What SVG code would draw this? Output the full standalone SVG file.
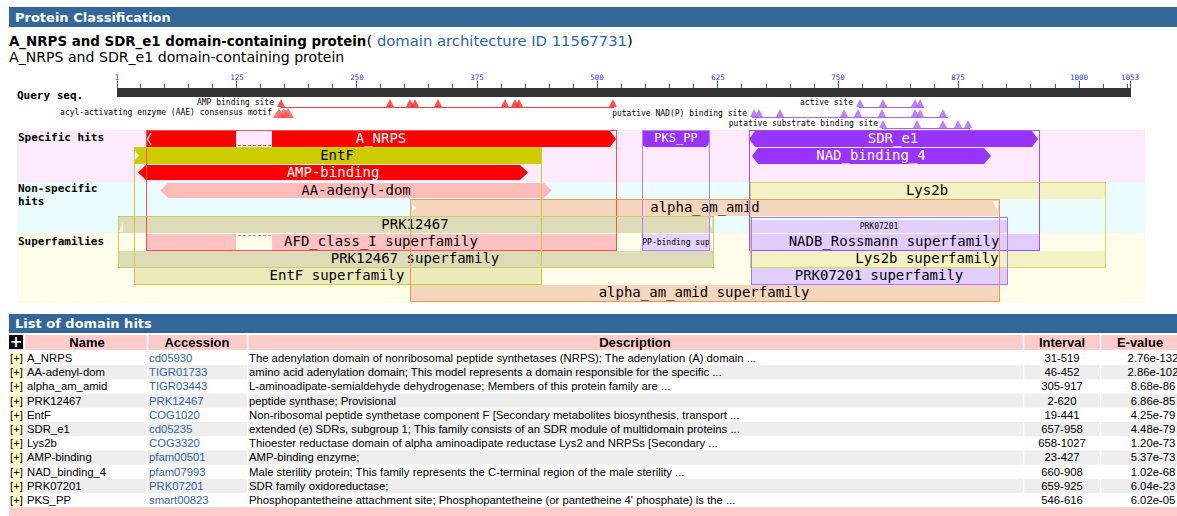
<svg xmlns="http://www.w3.org/2000/svg" width="1177" height="516" viewBox="0 0 1177 516">
<style>
.hdr{fill:#336699}
.hdrt{font-family:"DejaVu Sans",Verdana,sans-serif;font-weight:bold;font-size:13px;fill:#fff}
.mono{font-family:"DejaVu Sans Mono","Liberation Mono",monospace}
.lbl{font-family:"DejaVu Sans Mono","Liberation Mono",monospace;font-weight:bold;font-size:11px;fill:#000}
.rl{font-family:"DejaVu Sans Mono","Liberation Mono",monospace;font-size:7.5px;fill:#3333ee;text-anchor:middle}
.site{font-family:"DejaVu Sans Mono","Liberation Mono",monospace;font-size:8px;fill:#000;text-anchor:end}
.bt{font-family:"DejaVu Sans Mono","Liberation Mono",monospace;font-size:14px;text-anchor:middle;fill:#000}
.w{fill:#fff}
.sm{font-family:"DejaVu Sans Mono","Liberation Mono",monospace;font-size:8px;text-anchor:middle;fill:#000}
.ol{fill:none;stroke-width:1}
.th{font-family:"Liberation Sans",Arial,sans-serif;font-weight:bold;font-size:13px;text-anchor:middle;fill:#000}
.td{font-family:"Liberation Sans",Arial,sans-serif;font-size:11.3px;fill:#000}
.acc{fill:#3366a0}
.c{text-anchor:middle}
</style>
<defs>
<polygon id="tr" points="-4,0 0,-8 4,0" fill="#ff3030" fill-opacity="0.85"/>
<polygon id="tp" points="-4,0 0,-8 4,0" fill="#a860ff" fill-opacity="0.8"/>
</defs>
<rect width="1177" height="516" fill="#fff"/>

<!-- header -->
<g id="header">
<rect class="hdr" x="9" y="7" width="1168" height="20"/>
<text class="hdrt" x="15" y="22">Protein Classification</text>
<text x="9" y="46" font-family="DejaVu Sans,Verdana,sans-serif" font-size="14.8px" fill="#000"><tspan font-weight="bold" font-size="13.4px">A_NRPS and SDR_e1 domain-containing protein</tspan>( <tspan fill="#2a66aa">domain architecture ID 11567731</tspan>)</text>
<text x="9" y="62" font-family="DejaVu Sans,Verdana,sans-serif" font-size="14.1px" fill="#000">A_NRPS and SDR_e1 domain-containing protein</text>
</g>

<!-- ruler -->
<g id="query">
<text class="lbl" x="17" y="99">Query seq.</text>
<rect x="117" y="88" width="1014" height="9" fill="#333"/>
<path stroke="#3355ee" stroke-width="1" fill="none" d="M117.5,81V88 M140.5,84V88 M164.5,84V88 M188.5,84V88 M212.5,84V88 M236.5,81V88 M260.5,84V88 M284.5,84V88 M308.5,84V88 M332.5,84V88 M356.5,81V88 M380.5,84V88 M404.5,84V88 M428.5,84V88 M452.5,84V88 M477.5,81V88 M501.5,84V88 M525.5,84V88 M549.5,84V88 M573.5,84V88 M597.5,81V88 M621.5,84V88 M645.5,84V88 M669.5,84V88 M693.5,84V88 M717.5,81V88 M741.5,84V88 M766.5,84V88 M790.5,84V88 M814.5,84V88 M838.5,81V88 M862.5,84V88 M886.5,84V88 M910.5,84V88 M934.5,84V88 M958.5,81V88 M982.5,84V88 M1006.5,84V88 M1030.5,84V88 M1055.5,84V88 M1079.5,81V88 M1103.5,84V88 M1127.5,84V88 M1130.5,81V88"/>
<text class="rl" x="117" y="80">1</text>
<text class="rl" x="237" y="80">125</text>
<text class="rl" x="357" y="80">250</text>
<text class="rl" x="477" y="80">375</text>
<text class="rl" x="597" y="80">500</text>
<text class="rl" x="718" y="80">625</text>
<text class="rl" x="838" y="80">750</text>
<text class="rl" x="958" y="80">875</text>
<text class="rl" x="1079" y="80">1000</text>
<text class="rl" x="1130" y="80">1053</text>
</g>

<!-- sites -->
<g id="amp-site">
<text class="site" x="274" y="105">AMP binding site</text>
<line x1="281" y1="107.5" x2="614" y2="107.5" stroke="#ff4040" stroke-width="1.2"/>
<use href="#tr" x="281" y="107"/><use href="#tr" x="390" y="107"/><use href="#tr" x="410" y="107"/><use href="#tr" x="415" y="107"/><use href="#tr" x="438" y="107"/><use href="#tr" x="505" y="107"/><use href="#tr" x="515" y="107"/><use href="#tr" x="519" y="107"/><use href="#tr" x="613" y="107"/>
</g>
<g id="aae-motif">
<text class="site" x="272" y="115">acyl-activating enzyme (AAE) consensus motif</text>
<polygon points="273,118 279,108 285,118" fill="#ff5050" fill-opacity="0.8"/>
<polygon points="278,118 284,108 290,118" fill="#ff5050" fill-opacity="0.8"/>
<polygon points="282,118 288,108 294,118" fill="#ff5050" fill-opacity="0.8"/>
</g>
<g id="active-site">
<text class="site" x="853" y="105">active site</text>
<line x1="859" y1="107.5" x2="924" y2="107.5" stroke="#a860ff" stroke-width="1.2"/>
<use href="#tp" x="860" y="107"/><use href="#tp" x="883" y="107"/><use href="#tp" x="915" y="107"/><use href="#tp" x="920" y="107"/>
</g>
<g id="nadp-site">
<text class="site" x="747" y="116">putative NAD(P) binding site</text>
<line x1="752" y1="117.5" x2="948" y2="117.5" stroke="#a860ff" stroke-width="1.2"/>
<use href="#tp" x="754" y="117"/><use href="#tp" x="759" y="117"/><use href="#tp" x="780" y="117"/><use href="#tp" x="844" y="117"/><use href="#tp" x="858" y="117"/><use href="#tp" x="882" y="117"/><use href="#tp" x="915" y="117"/><use href="#tp" x="920" y="117"/><use href="#tp" x="943" y="117"/>
</g>
<g id="substrate-site">
<text class="site" x="878" y="126">putative substrate binding site</text>
<line x1="882" y1="128.5" x2="970" y2="128.5" stroke="#a860ff" stroke-width="1.2"/>
<use href="#tp" x="883" y="128"/><use href="#tp" x="917" y="128"/><use href="#tp" x="943" y="128"/><use href="#tp" x="958" y="128"/><use href="#tp" x="968" y="128"/>
</g>

<!-- bands -->
<g id="bands">
<rect x="17" y="130" width="1128" height="52" fill="#fdeafd"/>
<rect x="17" y="182" width="1128" height="51" fill="#eafcfd"/>
<rect x="17" y="233" width="1128" height="70" fill="#fdfdea"/>
<text class="lbl" x="18" y="141">Specific hits</text>
<text class="lbl" x="18" y="192">Non-specific</text>
<text class="lbl" x="18" y="205">hits</text>
<text class="lbl" x="18" y="245">Superfamilies</text>
</g>

<!-- superfamily bars -->
<g id="AFD_class_I">
<rect x="146" y="234" width="470" height="16" fill="#ffc2c2"/>
<rect x="236" y="234" width="36" height="16" fill="#fdfdea"/>
<line x1="238" y1="235.5" x2="271" y2="235.5" stroke="#ff8080" stroke-dasharray="3,2"/>
<text class="bt" x="381" y="246">AFD_class_I superfamily</text>
</g>
<g id="PP-binding">
<rect x="642" y="234" width="67" height="16" fill="#e4d2ff"/>
<text class="sm" x="676" y="245">PP-binding sup</text>
</g>
<g id="NADB_Rossmann">
<rect x="749" y="234" width="290" height="16" fill="#e2ccff"/>
<text class="bt" x="894" y="246">NADB_Rossmann superfamily</text>
</g>
<g id="PRK12467_sf">
<rect x="118" y="251" width="595" height="16" fill="#dedcb8"/>
<text class="bt" x="415" y="263">PRK12467 superfamily</text>
</g>
<g id="Lys2b_sf">
<rect x="750" y="251" width="355" height="16" fill="#f2f2c4"/>
<text class="bt" x="927" y="263">Lys2b superfamily</text>
</g>
<g id="EntF_sf">
<rect x="134" y="268" width="407" height="16" fill="#ebebbc"/>
<text class="bt" x="337" y="280">EntF superfamily</text>
</g>
<g id="PRK07201_sf">
<rect x="751" y="268" width="256" height="16" fill="#e2cfff"/>
<text class="bt" x="879" y="280">PRK07201 superfamily</text>
</g>
<g id="alpha_am_amid_sf">
<rect x="410" y="285" width="589" height="16" fill="#f6d6bd"/>
<text class="bt" x="704" y="297">alpha_am_amid superfamily</text>
</g>

<!-- hits -->
<g id="A_NRPS">
<polygon points="146,131 610,131 616,139 610,147 146,147" fill="#ff0000"/>
<rect x="236" y="131" width="36" height="16" fill="#fdeafd"/>
<line x1="238" y1="145.5" x2="271" y2="145.5" stroke="#ff4040" stroke-dasharray="3,2"/>
<polyline points="151,133 147.5,139 151,145" fill="none" stroke="#fff" stroke-width="1.2"/>
<polygon points="611,131 616,131 616,136" fill="#fff"/>
<text class="bt w" x="381" y="143">A_NRPS</text>
</g>
<g id="EntF">
<rect x="134" y="148" width="407" height="16" fill="#cccc00"/>
<polygon points="135,151 139,155.5 135,160" fill="#fff"/>
<text class="bt" x="337" y="160">EntF</text>
</g>
<g id="AMP-binding">
<polygon points="138,172.5 146,165 520,165 528,172.5 520,180 146,180" fill="#ff0000"/>
<text class="bt w" x="333" y="177">AMP-binding</text>
</g>
<g id="PKS_PP">
<path d="M642,131H709V142Q709,147 704,147H647Q642,147 642,142Z" fill="#9933ff"/>
<text class="mono w" x="676" y="142" font-size="12px" text-anchor="middle">PKS_PP</text>
</g>
<g id="SDR_e1">
<polygon points="749,139 755,131 1032,131 1038,139 1032,147 755,147" fill="#9933ff"/>
<polygon points="1033,131 1038,131 1038,136" fill="#fff"/>
<text class="bt w" x="893" y="143">SDR_e1</text>
</g>
<g id="NAD_binding_4">
<polygon points="752,156 758,148 984,148 991,156 984,164 758,164" fill="#9933ff"/>
<text class="bt w" x="871" y="160">NAD_binding_4</text>
</g>
<g id="AA-adenyl-dom">
<polygon points="160,190.5 168,183 544,183 552,190.5 544,198 168,198" fill="#ffbaba"/>
<text class="bt" x="356" y="195">AA-adenyl-dom</text>
</g>
<g id="Lys2b">
<path d="M750,183H1105V194Q1105,199 1100,199H750Z" fill="#f2f2c4"/>
<text class="bt" x="927" y="195">Lys2b</text>
</g>
<g id="alpha_am_amid">
<rect x="410" y="200" width="589" height="16" fill="#f6d6bd"/>
<polygon points="412,204 416,208 412,212" fill="#fff"/>
<polygon points="993,201 998,201 998,212" fill="#fff"/>
<text class="bt" x="705" y="212">alpha_am_amid</text>
</g>
<g id="PRK12467">
<rect x="118" y="217" width="595" height="16" fill="#dedcb8"/>
<polygon points="119,232 123,222 123,232" fill="#fff" fill-opacity="0.7"/>
<polygon points="708,220 712,217 712,229" fill="#fff"/>
<text class="bt" x="415" y="229">PRK12467</text>
</g>
<g id="PRK07201">
<rect x="751" y="220" width="256" height="13" fill="#e2cfff"/>
<text class="sm" x="879" y="229">PRK07201</text>
</g>

<!-- outlines linking hits with superfamilies -->
<g id="connectors" class="ol">
<rect x="146.5" y="130.5" width="470" height="120" stroke="#ff5050"/>
<rect x="134.5" y="147.5" width="407" height="137" stroke="#cccc33"/>
<rect x="642.5" y="130.5" width="67" height="120" stroke="#b380ff"/>
<rect x="749.5" y="130.5" width="290" height="120" stroke="#a050ff"/>
<rect x="750.5" y="182.5" width="355" height="85" stroke="#d8d860"/>
<rect x="410.5" y="199.5" width="589" height="102" stroke="#e89a5c"/>
<rect x="118.5" y="216.5" width="595" height="51" stroke="#cccc66"/>
<rect x="751.5" y="217.5" width="256" height="67" stroke="#a47aff"/>
</g>

<!-- table -->
<g id="domain-table">
<rect class="hdr" x="9" y="314" width="1168" height="19"/>
<text class="hdrt" x="15" y="328">List of domain hits</text>
<rect x="9" y="335" width="1168" height="15" fill="#ffcccc"/>
<rect x="9" y="335" width="14" height="14" fill="#000"/>
<text x="16" y="347" font-family="DejaVu Sans,sans-serif" font-weight="bold" font-size="15px" fill="#fff" text-anchor="middle">+</text>
<text class="th" x="87" y="347">Name</text>
<text class="th" x="197" y="347">Accession</text>
<text class="th" x="635" y="347">Description</text>
<text class="th" x="1062" y="347">Interval</text>
<text class="th" x="1140" y="347">E-value</text>
<rect x="9" y="365.2" width="1168" height="14.2" fill="#eeeeee"/>
<rect x="9" y="393.6" width="1168" height="14.2" fill="#eeeeee"/>
<rect x="9" y="422" width="1168" height="14.2" fill="#eeeeee"/>
<rect x="9" y="450.4" width="1168" height="14.2" fill="#eeeeee"/>
<rect x="9" y="478.8" width="1168" height="14.2" fill="#eeeeee"/>
<rect x="9" y="507.2" width="1168" height="9" fill="#ffcccc"/>
<path d="M24.5,335V507 M147.5,335V507 M247.5,335V507 M1023.5,335V507 M1100.5,335V507" stroke="#fff" stroke-width="1.5"/>
<g fill="#ffffc8">
<rect x="10" y="352" width="13" height="13"/><rect x="10" y="366.2" width="13" height="13"/><rect x="10" y="380.4" width="13" height="13"/><rect x="10" y="394.6" width="13" height="13"/><rect x="10" y="408.8" width="13" height="13"/><rect x="10" y="423" width="13" height="13"/><rect x="10" y="437.2" width="13" height="13"/><rect x="10" y="451.4" width="13" height="13"/><rect x="10" y="465.6" width="13" height="13"/><rect x="10" y="479.8" width="13" height="13"/><rect x="10" y="494" width="13" height="13"/>
</g>
<g class="td">
<text x="10" y="362">[+]</text><text x="10" y="376.2">[+]</text><text x="10" y="390.4">[+]</text><text x="10" y="404.6">[+]</text><text x="10" y="418.8">[+]</text><text x="10" y="433">[+]</text><text x="10" y="447.2">[+]</text><text x="10" y="461.4">[+]</text><text x="10" y="475.6">[+]</text><text x="10" y="489.8">[+]</text><text x="10" y="504">[+]</text>
<text x="27" y="362">A_NRPS</text>
<text x="27" y="376.2">AA-adenyl-dom</text>
<text x="27" y="390.4">alpha_am_amid</text>
<text x="27" y="404.6">PRK12467</text>
<text x="27" y="418.8">EntF</text>
<text x="27" y="433">SDR_e1</text>
<text x="27" y="447.2">Lys2b</text>
<text x="27" y="461.4">AMP-binding</text>
<text x="27" y="475.6">NAD_binding_4</text>
<text x="27" y="489.8">PRK07201</text>
<text x="27" y="504">PKS_PP</text>
</g>
<g class="td acc">
<text x="149" y="362">cd05930</text>
<text x="149" y="376.2">TIGR01733</text>
<text x="149" y="390.4">TIGR03443</text>
<text x="149" y="404.6">PRK12467</text>
<text x="149" y="418.8">COG1020</text>
<text x="149" y="433">cd05235</text>
<text x="149" y="447.2">COG3320</text>
<text x="149" y="461.4">pfam00501</text>
<text x="149" y="475.6">pfam07993</text>
<text x="149" y="489.8">PRK07201</text>
<text x="149" y="504">smart00823</text>
</g>
<g class="td">
<text x="249" y="362">The adenylation domain of nonribosomal peptide synthetases (NRPS); The adenylation (A) domain ...</text>
<text x="249" y="376.2">amino acid adenylation domain; This model represents a domain responsible for the specific ...</text>
<text x="249" y="390.4">L-aminoadipate-semialdehyde dehydrogenase; Members of this protein family are ...</text>
<text x="249" y="404.6">peptide synthase; Provisional</text>
<text x="249" y="418.8">Non-ribosomal peptide synthetase component F [Secondary metabolites biosynthesis, transport ...</text>
<text x="249" y="433">extended (e) SDRs, subgroup 1; This family consists of an SDR module of multidomain proteins ...</text>
<text x="249" y="447.2">Thioester reductase domain of alpha aminoadipate reductase Lys2 and NRPSs [Secondary ...</text>
<text x="249" y="461.4">AMP-binding enzyme;</text>
<text x="249" y="475.6">Male sterility protein; This family represents the C-terminal region of the male sterility ...</text>
<text x="249" y="489.8">SDR family oxidoreductase;</text>
<text x="249" y="504">Phosphopantetheine attachment site; Phosphopantetheine (or pantetheine 4' phosphate) is the ...</text>
</g>
<g class="td c">
<text x="1062" y="362">31-519</text>
<text x="1062" y="376.2">46-452</text>
<text x="1062" y="390.4">305-917</text>
<text x="1062" y="404.6">2-620</text>
<text x="1062" y="418.8">19-441</text>
<text x="1062" y="433">657-958</text>
<text x="1062" y="447.2">658-1027</text>
<text x="1062" y="461.4">23-427</text>
<text x="1062" y="475.6">660-908</text>
<text x="1062" y="489.8">659-925</text>
<text x="1062" y="504">546-616</text>
</g>
<g class="td c">
<text x="1153" y="362">2.76e-132</text>
<text x="1153" y="376.2">2.86e-102</text>
<text x="1153" y="390.4">8.68e-86</text>
<text x="1153" y="404.6">6.86e-85</text>
<text x="1153" y="418.8">4.25e-79</text>
<text x="1153" y="433">4.48e-79</text>
<text x="1153" y="447.2">1.20e-73</text>
<text x="1153" y="461.4">5.37e-73</text>
<text x="1153" y="475.6">1.02e-68</text>
<text x="1153" y="489.8">6.04e-23</text>
<text x="1153" y="504">6.02e-05</text>
</g>
</g>
</svg>
